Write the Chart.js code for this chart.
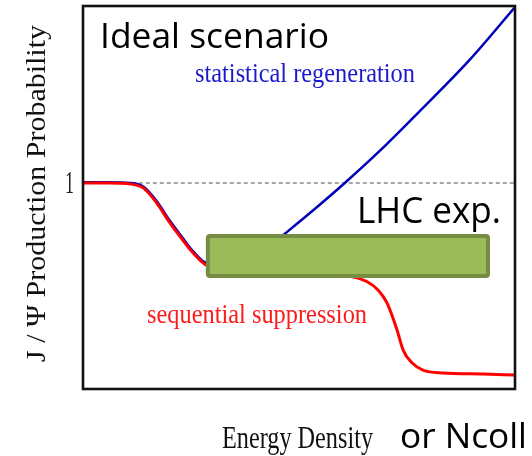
<!DOCTYPE html>
<html>
<head>
<meta charset="utf-8">
<script src="https://cdn.jsdelivr.net/npm/chart.js@4.4.1/dist/chart.umd.min.js"></script>
<style>
  html, body { margin: 0; padding: 0; background: #fff; }
  canvas { display: block; }
</style>
</head>
<body>
<canvas id="chart" width="532" height="456"></canvas>
<script>
// sequential suppression curve (red)
const redX = [0, 6, 11, 14, 17, 20, 23, 25.5, 28.7, 36, 46, 55, 62.5, 65.7, 68.3, 70.4, 72.7, 74.1, 76.2, 78.7, 83.3, 92.6, 100];
const redY = [1, 1, 0.995, 0.975, 0.905, 0.81, 0.725, 0.66, 0.6, 0.58, 0.567, 0.557, 0.545, 0.522, 0.481, 0.417, 0.286, 0.189, 0.126, 0.092, 0.078, 0.073, 0.068];

// statistical regeneration curve (blue)
const blueX = [0, 6, 11, 14, 17, 20, 23, 25.5, 28.7, 33.3, 38, 43, 46.8, 53.7, 60.6, 68.8, 78, 89.6, 100];
const blueY = [1.004, 1.004, 1.0, 0.982, 0.914, 0.82, 0.735, 0.668, 0.612, 0.617, 0.64, 0.69, 0.755, 0.875, 1.0, 1.158, 1.35, 1.6, 1.854];

// reference level y = 1
const dashX = [11.3, 100];
const dashY = [1, 1];

// LHC experimental band
const boxX = [28.9, 93.75];
const boxY = [0.549, 0.743];

const yTicks = [1];

const toPts = (xs, ys) => xs.map((x, i) => ({ x, y: ys[i] }));

function drawFitText(ctx, text, x, y, font, width, color) {
    ctx.save();
    ctx.font = font;
    ctx.fillStyle = color;
    ctx.textBaseline = 'alphabetic';
    ctx.textAlign = 'left';
    const w = ctx.measureText(text).width;
    ctx.translate(x, y);
    ctx.scale(width / w, 1);
    ctx.fillText(text, 0, 0);
    ctx.restore();
}

const decor = {
    id: 'decor',
    afterDatasetsDraw(chart) {
        const { ctx, chartArea: a, scales } = chart;
        const xs = scales.x, ys = scales.y;

        // green band
        const bx0 = xs.getPixelForValue(boxX[0]), bx1 = xs.getPixelForValue(boxX[1]);
        const by0 = ys.getPixelForValue(boxY[1]), by1 = ys.getPixelForValue(boxY[0]);
        ctx.save();
        ctx.beginPath();
        if (ctx.roundRect) ctx.roundRect(bx0, by0, bx1 - bx0, by1 - by0, 2);
        else ctx.rect(bx0, by0, bx1 - bx0, by1 - by0);
        ctx.fillStyle = '#9bbb59';
        ctx.fill();
        ctx.lineWidth = 4;
        ctx.strokeStyle = '#758c45';
        ctx.stroke();
        ctx.restore();

        // frame
        ctx.save();
        ctx.lineWidth = 2.6;
        ctx.strokeStyle = '#111';
        ctx.strokeRect(a.left, a.top, a.right - a.left, a.bottom - a.top);
        ctx.restore();

        // tick label
        yTicks.forEach(v => {
            const py = ys.getPixelForValue(v);
            drawFitText(ctx, String(v), 65, py + 10, '32px "Liberation Serif"', 9, '#222');
        });

        // texts
        drawFitText(ctx, 'Ideal scenario', 100, 48, '35px "Open Sans"', 229, '#000');
        drawFitText(ctx, 'statistical regeneration', 195, 82, '28px "Liberation Serif"', 220, '#1a1acc');
        drawFitText(ctx, 'LHC exp.', 357, 223, '36px "Open Sans"', 144, '#000');
        drawFitText(ctx, 'sequential suppression', 147, 323, '27px "Liberation Serif"', 220, '#ff1a1a');
        drawFitText(ctx, 'Energy Density', 222, 448, '31px "Liberation Serif"', 151, '#111');
        drawFitText(ctx, 'or Ncoll', 400, 448, '35px "Open Sans"', 127, '#000');

        // y axis title
        ctx.save();
        ctx.translate(45, 362);
        ctx.rotate(-Math.PI / 2);
        drawFitText(ctx, 'J / Ψ Production Probability', 0, 0, '27px "Liberation Serif"', 337, '#111');
        ctx.restore();
    }
};

new Chart(document.getElementById('chart'), {
    type: 'line',
    data: {
        datasets: [{
            label: 'sequential suppression',
            data: toPts(redX, redY),
            borderColor: '#ff0000',
            borderWidth: 3,
            cubicInterpolationMode: 'monotone',
            pointRadius: 0,
            order: 1
        }, {
            label: 'statistical regeneration',
            data: toPts(blueX, blueY),
            borderColor: '#0000b8',
            borderWidth: 2.5,
            cubicInterpolationMode: 'monotone',
            pointRadius: 0,
            order: 2
        }, {
            label: 'reference',
            data: toPts(dashX, dashY),
            borderColor: '#8a8a8a',
            borderWidth: 1.3,
            borderDash: [4, 3],
            pointRadius: 0,
            order: 3
        }]
    },
    options: {
        responsive: false,
        animation: false,
        layout: { autoPadding: false, padding: { left: 83, top: 6, right: 17, bottom: 67 } },
        plugins: { legend: { display: false }, tooltip: { enabled: false } },
        scales: {
            x: { type: 'linear', min: 0, max: 100, display: false },
            y: { type: 'linear', min: 0, max: 1.859, display: false }
        }
    },
    plugins: [decor]
});
</script>
</body>
</html>
